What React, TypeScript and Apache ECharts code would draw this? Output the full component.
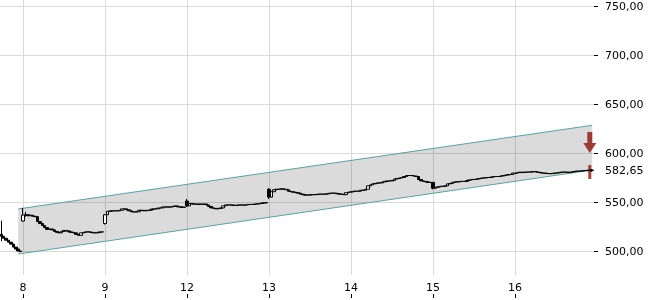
import React, { useEffect, useRef } from 'react';
import * as echarts from 'echarts';

const DAYS = ['7', '8', '9', '12', '13', '14', '15', '16'];
const DAY_OPENS = [517, 530.6, 528, 551, 563, 560, 570, 579];

const CLOSES_D7 = [515, 513, 511, 509, 507, 504, 502, 500, 499.5];
const CLOSES_D8 = [536.7, 537, 536, 536.5, 535.5, 535, 530, 528, 526, 524, 522, 522.5, 521.5, 520, 519, 518.5, 520, 521, 520.5, 519.5, 519, 518.5, 517, 516, 518.5, 519, 519.5, 519.5, 519, 518.5, 518.5, 519, 519.5, 519.5];
const CLOSES_D9 = [537, 540.5, 540.8, 541, 541, 541, 541.5, 543, 543, 542, 541, 540, 539.8, 540, 541.5, 541.5, 541, 541.5, 541.5, 542.5, 543, 543, 543.8, 544, 545, 545, 544.8, 545, 545.5, 546, 545, 545, 544.5, 544.8];
const CLOSES_D12 = [546, 548.5, 548, 548, 547.5, 548, 547.5, 548, 547, 545.5, 544, 543.5, 543, 543.5, 544, 546, 547, 547, 547, 546.5, 546.5, 547, 547, 546.8, 547, 547.5, 547.5, 547.5, 548, 548, 548.5, 549, 549, 549.5];
const CLOSES_D13 = [555, 560.5, 562.5, 563, 563, 563.5, 563, 562.5, 561, 560.5, 560, 559.5, 559, 558, 557.5, 557, 557, 557.5, 557.5, 557.5, 558, 558, 558, 558, 558.5, 559, 559, 559, 558.5, 558, 558, 557.5, 559.5, 560];
const CLOSES_D14 = [560.5, 561, 561, 561, 562, 562, 563, 566.5, 567.5, 568.5, 569, 569.5, 569.5, 570.5, 571, 571.5, 571.5, 572, 573.5, 574, 574.5, 575, 576, 577, 577, 577, 576.5, 576, 573, 571.5, 571, 570.5, 570, 570];
const CLOSES_D15 = [564, 565, 565.5, 566, 566, 566.5, 568.5, 569, 570, 570.5, 570.5, 571, 571, 571, 572, 572.5, 573, 573, 573.5, 574, 574.5, 574.5, 575, 575, 575.5, 576, 576, 576, 576.5, 577, 577.5, 578, 578, 579.5];
const CLOSES_D16 = [579.5, 580, 580.5, 580, 580.5, 580.5, 580.5, 581, 581, 580.5, 580, 579.5, 579.5, 579, 579, 579, 579.5, 579.5, 580, 580.5, 580.5, 580.5, 580, 580.5, 581, 581.5, 581.5, 581.5, 582, 582, 582.5, 582, 582.65];
const DAY_CLOSES = [CLOSES_D7, CLOSES_D8, CLOSES_D9, CLOSES_D12, CLOSES_D13, CLOSES_D14, CLOSES_D15, CLOSES_D16];

// [dayIndex, slot, low, high]
const WICKS = [
  [0, 0, 510, 531],
  [1, 0, 530, 544],
  [1, 1, 535, 540],
  [2, 0, 527, 537.5],
  [3, 0, 545, 553],
  [4, 0, 553, 564],
  [6, 0, 563, 570.5],
  [7, 32, 580.9, 583.6],
];

const Y_TICKS = [500, 550, 600, 650, 700, 750];
const LAST_PRICE = 582.65;

const CHANNEL_SLOTS = [7, 245];
const CHANNEL_UPPER = [542.9, 628.3];
const CHANNEL_LOWER = [496.9, 582.65];

const SIGNAL_POINT = [244, 610.7];
const MARK_BAR = [244, 573.5, 587.75];

const categories: string[] = [];
const candles: number[][] = [];
const dayStartIdx = new Set<number>();
let prevClose = 0;
DAYS.forEach((d, di) => {
  if (di > 0) dayStartIdx.add(categories.length);
  DAY_CLOSES[di].forEach((c, j) => {
    const o = j === 0 ? DAY_OPENS[di] : prevClose;
    let lo = Math.min(o, c);
    let hi = Math.max(o, c);
    const w = WICKS.find((x) => x[0] === di && x[1] === j);
    if (w) {
      lo = Math.min(lo, w[2]);
      hi = Math.max(hi, w[3]);
    }
    categories.push(`${d}|${j}`);
    candles.push([o, c, lo, hi]);
    prevClose = c;
  });
});

const isDayStart = (i: number) => dayStartIdx.has(i);
const fmt = (v: number) => v.toFixed(2).replace('.', ',');

export default function App() {
  const ref = useRef<HTMLDivElement>(null);
  useEffect(() => {
    const chart = echarts.init(ref.current!, null, { renderer: 'svg' });
    const option: any = {
      animation: false,
      grid: [
        { left: 0, right: 56, top: 6, height: 245 },
        { left: 1.3, right: 57.8, top: 0, height: 275 },
      ],
      xAxis: [
        { gridIndex: 0, type: 'value', min: 1, max: 2, show: false },
        {
          gridIndex: 1,
          type: 'category',
          data: categories,
          boundaryGap: false,
          offset: 19,
          axisLine: { show: false, onZero: false },
          axisTick: { show: true, length: 4, interval: isDayStart, lineStyle: { color: '#000' } },
          axisLabel: {
            inside: true,
            margin: 1,
            interval: isDayStart,
            formatter: (v: string) => v.split('|')[0],
            color: '#000',
            fontSize: 11,
            fontFamily: 'DejaVu Sans',
          },
          splitLine: { show: true, interval: isDayStart, lineStyle: { color: '#dadada', width: 1 } },
        },
      ],
      yAxis: [
        {
          gridIndex: 0,
          type: 'value',
          position: 'right',
          min: Y_TICKS[0],
          max: Y_TICKS[Y_TICKS.length - 1],
          interval: 50,
          axisLine: { show: false, onZero: false },
          axisTick: { show: true, length: 4, lineStyle: { color: '#000' } },
          axisLabel: {
            customValues: [...Y_TICKS, LAST_PRICE],
            formatter: (v: number) => fmt(v),
            margin: 11,
            color: '#000',
            fontSize: 11,
            fontFamily: 'DejaVu Sans',
          },
          splitLine: { show: true, lineStyle: { color: '#dadada', width: 1 } },
        },
        {
          gridIndex: 1,
          type: 'value',
          min: 500 - 24 / 0.98,
          max: 750 + 6 / 0.98,
          show: false,
          axisLine: { onZero: false },
          splitLine: { show: false },
        },
      ],
      series: [
        {
          type: 'custom',
          xAxisIndex: 1,
          yAxisIndex: 1,
          z: 1,
          data: [[CHANNEL_SLOTS[0], CHANNEL_UPPER[0], CHANNEL_LOWER[0], CHANNEL_SLOTS[1], CHANNEL_UPPER[1], CHANNEL_LOWER[1]]],
          renderItem: (params: any, api: any) => {
            const a = api.coord([api.value(0), api.value(1)]);
            const b = api.coord([api.value(3), api.value(4)]);
            const c = api.coord([api.value(3), api.value(5)]);
            const d = api.coord([api.value(0), api.value(2)]);
            return {
              type: 'group',
              children: [
                { type: 'polygon', shape: { points: [a, b, c, d] }, style: { fill: 'rgba(0,0,0,0.14)' } },
                { type: 'line', shape: { x1: a[0], y1: a[1], x2: b[0], y2: b[1] }, style: { stroke: '#5f9ea0', lineWidth: 1 } },
                { type: 'line', shape: { x1: d[0], y1: d[1], x2: c[0], y2: c[1] }, style: { stroke: '#5f9ea0', lineWidth: 1 } },
              ],
            };
          },
        },
        {
          type: 'custom',
          xAxisIndex: 1,
          yAxisIndex: 1,
          z: 2,
          data: [MARK_BAR],
          renderItem: (params: any, api: any) => {
            const top = api.coord([api.value(0), api.value(2)]);
            const bot = api.coord([api.value(0), api.value(1)]);
            return {
              type: 'rect',
              shape: { x: top[0] - 1.5, y: top[1], width: 3, height: bot[1] - top[1] },
              style: { fill: '#a8403b' },
            };
          },
        },
        {
          type: 'candlestick',
          xAxisIndex: 1,
          yAxisIndex: 1,
          z: 3,
          data: candles,
          barWidth: 3,
          itemStyle: {
            color: '#ffffff',
            color0: '#000000',
            borderColor: '#000000',
            borderColor0: '#000000',
            borderWidth: 1,
          },
        },
        {
          type: 'scatter',
          xAxisIndex: 1,
          yAxisIndex: 1,
          z: 4,
          data: [SIGNAL_POINT],
          symbol: 'path://M4,0L9,0L9,11L13,11L6.5,21L0,11L4,11Z',
          symbolSize: [13, 21],
          itemStyle: { color: '#9d3b35', opacity: 1 },
        },
      ],
    };
    chart.setOption(option);
    return () => chart.dispose();
  }, []);
  return <div ref={ref} style={{ position: 'fixed', left: 0, top: 0, width: 650, height: 300 }} />;
}
